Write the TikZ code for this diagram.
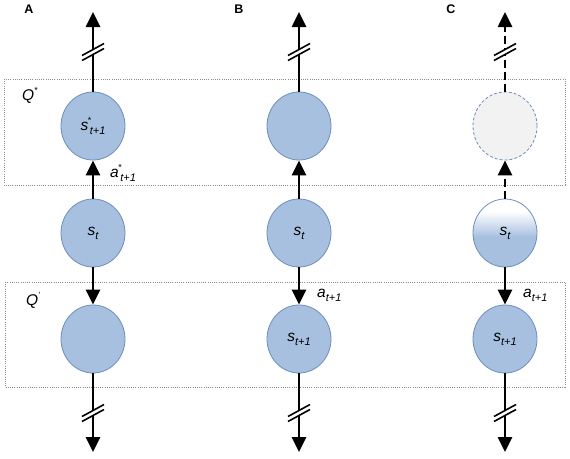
\documentclass[tikz,border=0pt]{standalone}
\usepackage{fontspec}
\setmainfont{Liberation Sans}
\usetikzlibrary{shapes.geometric,arrows.meta}
\definecolor{nb}{RGB}{167,192,224}
\definecolor{nd}{RGB}{108,142,190}
\definecolor{ng}{RGB}{242,242,242}
\definecolor{boxc}{RGB}{140,140,140}
\pgfdeclareverticalshading{fadeblue}{100bp}{color(0bp)=(nb); color(25bp)=(nb); color(47bp)=(nb); color(66bp)=(white); color(75bp)=(white); color(100bp)=(white)}
\newcommand{\mymain}{\fontsize{15.5}{15.5}\selectfont\itshape}
\newcommand{\mysub}[1]{\raisebox{-4pt}{\fontsize{11}{11}\selectfont\itshape #1}}
\newcommand{\mysup}[1]{\raisebox{6.5pt}{\fontsize{9}{9}\selectfont #1}}
\newcommand{\mysupsub}[2]{\rlap{\hspace{-0.5pt}\raisebox{6.5pt}{\fontsize{9}{9}\selectfont #1}}\hspace{1.5pt}\raisebox{-4pt}{\fontsize{11}{11}\selectfont\itshape #2}}
\tikzset{
  circ/.style={ellipse, minimum width=64pt, minimum height=68pt, inner sep=0pt, fill=nb, draw=nd, line width=0.8pt},
  ghost/.style={ellipse, minimum width=64pt, minimum height=68pt, inner sep=0pt, fill=ng, draw=nd, line width=0.8pt, dash pattern=on 3pt off 2pt},
  fadec/.style={ellipse, minimum width=64pt, minimum height=68pt, inner sep=0pt, shade, shading=fadeblue, draw=nd, line width=0.8pt},
  arr/.style={line width=2.6pt, -{Triangle[length=15pt,width=14pt]}},
  dsh/.style={dash pattern=on 8pt off 4pt},
  qbox/.style={draw=boxc, line width=0.8pt, dash pattern=on 1pt off 1.2pt},
  panel/.style={font=\fontsize{12.5}{12.5}\selectfont\bfseries, inner sep=0pt},
  lbl/.style={inner sep=0pt, anchor=base west},
  brk/.pic={
    \fill[white] (-11,8.5) -- (11,-3.5) -- (11,-8.5) -- (-11,3.5) -- cycle;
    \draw[line width=1.6pt] (-11,8.5) -- (11,-3.5);
    \draw[line width=1.6pt] (-11,3.5) -- (11,-8.5);
  }
}
\begin{document}
\begin{tikzpicture}[x=1pt,y=-1pt]
\useasboundingbox (0,0) rectangle (570,458);
% Q boxes
\draw[qbox] (4,79) rectangle (565,185);
\draw[qbox] (5,282) rectangle (565,387);
% panel letters
\node[panel] (pA) at (29,9) {A};
\node[panel] (pB) at (239,9) {B};
\node[panel] (pC) at (451,9) {C};
% Q labels
\node[lbl] (qs) at (22,100) {{\mymain Q}\mysup{*}};
\node[lbl] (qp) at (26,305) {{\mymain Q}\mysup{'}};
% column A
\node[circ] (tA) at (93,126) {{\mymain s}\mysupsub{*}{t+1}};
\node[circ] (mA) at (93,233) {{\mymain s}\mysub{t}};
\node[circ] (lA) at (93,339) {};
\coordinate (uA) at (93,12);
\coordinate (dA) at (93,452);
% column B
\node[circ] (tB) at (299,126) {};
\node[circ] (mB) at (299,233) {{\mymain s}\mysub{t}};
\node[circ] (lB) at (299,339) {{\mymain s}\mysub{t+1}};
\coordinate (uB) at (299,12);
\coordinate (dB) at (299,452);
% column C
\node[ghost] (tC) at (505,126) {};
\node[fadec] (mC) at (505,233) {{\mymain s}\mysub{t}};
\node[circ] (lC) at (505,339) {{\mymain s}\mysub{t+1}};
\coordinate (uC) at (505,12);
\coordinate (dC) at (505,452);
% arrows A
\draw[arr] (tA) -- (uA);
\draw[arr] (mA) -- (tA);
\draw[arr] (mA) -- (lA);
\draw[arr] (lA) -- (dA);
% arrows B
\draw[arr] (tB) -- (uB);
\draw[arr] (mB) -- (tB);
\draw[arr] (mB) -- (lB);
\draw[arr] (lB) -- (dB);
% arrows C
\draw[arr,dsh] (tC) -- (uC);
\draw[arr,dsh] (mC) -- (tC);
\draw[arr] (mC) -- (lC);
\draw[arr] (lC) -- (dC);
% breaks
\pic at (93,52) {brk};
\pic at (299,52) {brk};
\pic at (505,52) {brk};
\pic at (93,413) {brk};
\pic at (299,413) {brk};
\pic at (505,413) {brk};
% action labels
\node[lbl] (aA) at (110,177) {{\mymain a}\mysupsub{*}{t+1}};
\node[lbl] (aB) at (317,297) {{\mymain a}\mysub{t+1}};
\node[lbl] (aC) at (523,297) {{\mymain a}\mysub{t+1}};
\end{tikzpicture}
\end{document}
